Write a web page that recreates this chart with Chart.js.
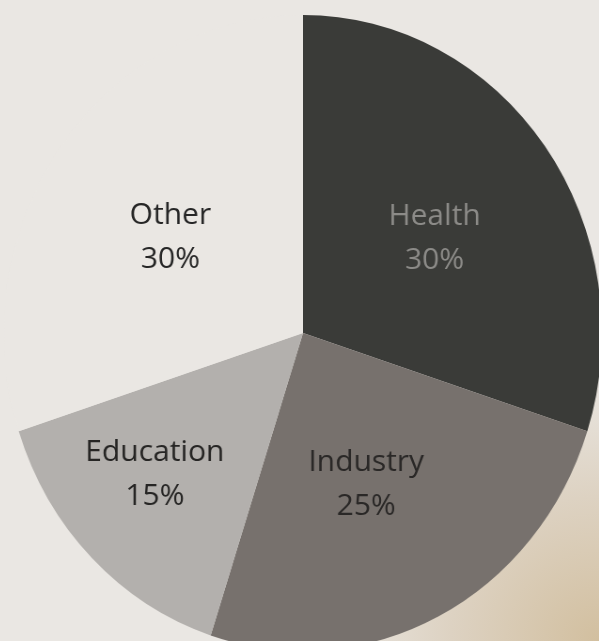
<!DOCTYPE html>
<html>
<head>
<meta charset="utf-8">
<script src="https://cdn.jsdelivr.net/npm/chart.js@4.4.1/dist/chart.umd.min.js"></script>
<style>
html, body { margin:0; padding:0; width:599px; height:641px; overflow:hidden; }
body { background: radial-gradient(ellipse 55% 50% at 100% 100%, #d2bf9f 0%, #ddd2c2 45%, #eae7e3 85%), #eae7e3; }
#wrap { position:absolute; left:-47px; top:-17px; width:700px; height:700px;
        transform:scaleX(0.94); transform-origin:350px 350px; }
</style>
</head>
<body>
<div id="wrap"><canvas id="c" width="700" height="700"></canvas></div>
<script>
const categories = ['Health', 'Industry', 'Education', 'Other'];
const shares = [30, 25, 15, 30];
const percentLabels = ['30%', '25%', '15%', '30%'];

const sliceColors = ['#3a3b38', '#77716d', '#b3b0ad', '#eae7e3'];
const labelColors = ['#8c8b88', '#2a2827', '#262524', '#262626'];
const labelRadius = [0.531, 0.52, 0.667, 0.535];
const labelAngleShift = [2, 3, 3, -2];
const X_SCALE = 0.94;

const labelPlugin = {
  id: 'sliceLabels',
  afterDatasetsDraw(chart) {
    const ctx = chart.ctx;
    const meta = chart.getDatasetMeta(0);
    meta.data.forEach((arc, i) => {
      const p = arc.getProps(['x', 'y', 'startAngle', 'endAngle', 'outerRadius'], true);
      const mid = (p.startAngle + p.endAngle) / 2 + labelAngleShift[i] * Math.PI / 180;
      const r = p.outerRadius * labelRadius[i];
      const px = p.x + Math.cos(mid) * r;
      const py = p.y + Math.sin(mid) * r;
      ctx.save();
      ctx.translate(px, py);
      ctx.scale(1 / X_SCALE, 1);
      ctx.fillStyle = labelColors[i];
      ctx.font = '30px "Open Sans", sans-serif';
      ctx.textAlign = 'center';
      ctx.textBaseline = 'middle';
      ctx.fillText(categories[i], 0, -22);
      ctx.fillText(percentLabels[i], 0, 22);
      ctx.restore();
    });
  }
};

new Chart(document.getElementById('c'), {
  type: 'pie',
  data: {
    labels: categories,
    datasets: [{
      data: shares,
      backgroundColor: sliceColors,
      borderWidth: 0,
      radius: 318
    }]
  },
  options: {
    responsive: false,
    animation: false,
    layout: { padding: 0 },
    plugins: { legend: { display: false }, tooltip: { enabled: false } },
    events: []
  },
  plugins: [labelPlugin]
});
</script>
</body>
</html>
